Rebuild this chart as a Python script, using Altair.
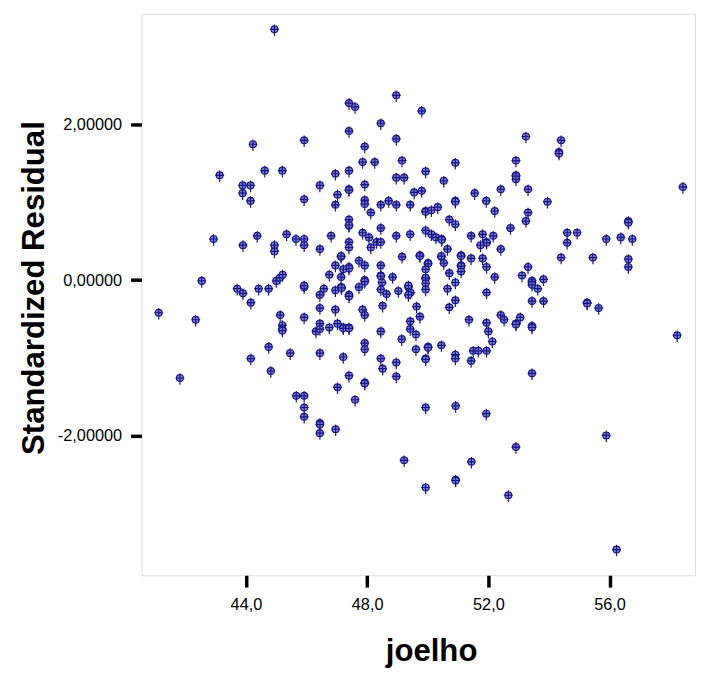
import altair as alt
import pandas as pd

# joelho (x) values
joelho = [
    44.94, 44.23, 45.92, 43.13, 44.62, 45.20, 43.89, 44.15, 43.89, 46.44,
    44.15, 45.92, 48.96, 47.40, 47.60, 49.80, 48.45, 47.40, 48.96, 47.92,
    47.85, 48.25, 49.15, 50.91, 52.91, 46.95, 47.40, 48.96, 49.22, 49.93,
    50.53, 52.91, 52.91, 47.40, 47.40, 47.92, 52.41, 47.02, 49.55, 49.80,
    51.55, 51.93, 50.91, 50.91, 47.92, 47.92, 48.71, 53.24, 54.40, 54.33,
    54.33, 52.91, 53.31, 58.42, 53.95, 42.93, 43.90, 44.37, 45.34, 45.65,
    45.92, 45.92, 44.94, 44.94, 46.44, 46.81, 42.54, 43.71, 43.90, 44.42,
    44.75, 45.00, 45.12, 45.21, 45.92, 45.92, 46.57, 46.44, 46.75, 44.16,
    46.44, 41.12, 42.34, 45.13, 45.92, 45.20, 45.20, 45.20, 46.44, 46.31,
    46.44, 46.75, 44.75, 44.16, 45.46, 46.44, 44.82, 41.82, 45.66, 45.92,
    45.92, 45.92, 46.44, 46.44, 46.44, 47.02, 47.60, 46.96, 49.93, 50.92,
    51.93, 52.91, 49.22, 51.44, 49.93, 50.92, 50.92, 52.66, 55.89, 56.23,
    53.31, 53.24, 52.73, 54.60, 54.93, 54.60, 56.62, 56.62, 55.89, 56.37,
    56.75, 54.40, 55.45, 56.62, 56.62, 53.31, 53.11, 53.44, 53.44, 53.44,
    53.82, 53.63, 53.44, 53.82, 55.26, 55.26, 55.64, 53.05, 52.91, 52.91,
    53.44, 53.44, 58.23, 53.44, 46.95, 48.45, 48.96, 49.42, 48.12, 49.93,
    49.93, 50.12, 50.33, 52.21, 47.40, 47.40, 47.40, 50.71, 50.91, 47.85,
    48.06, 48.45, 48.96, 49.42, 49.93, 50.12, 50.27, 50.46, 50.46, 51.43,
    51.81, 52.16, 51.94, 51.94, 51.74, 47.40, 47.40, 48.12, 48.31, 48.45,
    52.41, 50.65, 47.14, 47.14, 47.73, 47.92, 49.15, 49.74, 49.74, 50.45,
    50.45, 50.53, 51.10, 51.10, 51.10, 51.10, 51.43, 51.81, 51.94, 50.01,
    50.01, 49.93, 46.95, 47.40, 47.40, 47.21, 48.45, 47.14, 48.45, 48.45,
    48.84, 50.71, 51.10, 52.21, 49.93, 49.93, 47.92, 47.92, 48.49, 49.93,
    50.91, 49.36, 49.36, 46.95, 47.14, 47.16, 47.73, 48.45, 49.03, 49.43,
    49.36, 49.93, 50.65, 51.94, 47.40, 47.40, 48.64, 50.91, 48.51, 49.63,
    50.71, 46.95, 47.85, 47.92, 49.74, 49.42, 51.36, 52.41, 52.52, 51.94,
    47.02, 47.21, 47.21, 47.40, 47.40, 49.42, 52.00, 48.45, 49.61, 49.14,
    52.13, 47.92, 47.92, 50.45, 50.01, 50.01, 49.61, 51.50, 51.67, 51.94,
    50.91, 50.91, 47.21, 48.45, 49.93, 49.93, 51.43, 48.96, 48.51, 47.40,
    48.96, 47.92, 47.92,
]

# Standardized Residual (y) values
residual = [
    3.23, 1.75, 1.80, 1.35, 1.41, 1.41, 1.22, 1.22, 1.12, 1.22,
    1.02, 1.04, 2.38, 2.28, 2.23, 2.18, 2.02, 1.92, 1.82, 1.72,
    1.52, 1.52, 1.54, 1.51, 1.54, 1.37, 1.41, 1.32, 1.32, 1.40,
    1.28, 1.35, 1.30, 1.17, 1.16, 1.23, 1.17, 1.10, 1.13, 1.15,
    1.12, 1.02, 1.02, 1.01, 1.03, 0.98, 1.02, 1.85, 1.80, 1.65,
    1.63, 1.34, 1.17, 1.20, 1.01, 0.53, 0.45, 0.57, 0.59, 0.53,
    0.53, 0.45, 0.45, 0.37, 0.40, 0.57, -0.01, -0.11, -0.17, -0.11,
    -0.11, -0.01, 0.03, 0.07, -0.09, -0.07, -0.11, -0.19, 0.07, -0.29,
    -0.36, -0.42, -0.51, -0.45, -0.48, -0.58, -0.63, -0.65, -0.56, -0.66,
    -0.63, -0.61, -0.86, -1.01, -0.94, -0.94, -1.17, -1.26, -1.49, -1.49,
    -1.64, -1.76, -1.84, -1.86, -1.97, -1.38, -1.54, -1.92, -1.64, -1.62,
    -1.72, -2.15, -2.32, -2.34, -2.67, -2.57, -2.58, -2.77, -2.00, -3.47,
    0.87, 0.76, 0.67, 0.61, 0.61, 0.48, 0.76, 0.74, 0.53, 0.55,
    0.53, 0.29, 0.29, 0.27, 0.17, 0.17, 0.06, -0.01, -0.03, -0.06,
    0.01, -0.11, -0.27, -0.27, -0.29, -0.30, -0.36, -0.48, -0.56, -0.57,
    -0.59, -0.61, -0.71, -1.20, 0.97, 0.97, 0.97, 0.97, 0.87, 0.89,
    0.88, 0.90, 0.94, 0.89, 0.78, 0.70, 0.71, 0.78, 0.72, 0.61,
    0.55, 0.67, 0.57, 0.59, 0.64, 0.59, 0.55, 0.53, 0.52, 0.57,
    0.59, 0.57, 0.49, 0.48, 0.45, 0.49, 0.42, 0.42, 0.49, 0.49,
    0.40, 0.40, 0.30, 0.31, 0.25, 0.19, 0.30, 0.32, 0.31, 0.30,
    0.31, 0.22, 0.32, 0.31, 0.19, 0.18, 0.28, 0.28, 0.17, 0.22,
    0.21, 0.14, 0.19, 0.17, 0.15, 0.14, 0.19, 0.04, 0.06, 0.05,
    0.04, 0.09, 0.11, 0.04, 0.02, 0.03, 0.00, -0.02, -0.03, -0.04,
    -0.03, -0.09, -0.07, -0.13, -0.09, -0.10, -0.09, -0.12, -0.14, -0.16,
    -0.19, -0.12, -0.11, -0.16, -0.19, -0.21, -0.18, -0.26, -0.33, -0.34,
    -0.35, -0.38, -0.38, -0.45, -0.47, -0.53, -0.51, -0.45, -0.51, -0.55,
    -0.56, -0.61, -0.62, -0.61, -0.62, -0.63, -0.66, -0.66, -0.70, -0.76,
    -0.79, -0.81, -0.89, -0.84, -0.86, -0.87, -0.89, -0.91, -0.91, -0.91,
    -0.96, -1.01, -0.99, -1.01, -1.01, -1.02, -1.04, -1.06, -1.14, -1.23,
    -1.24, -1.32, -1.33,
]

x_ticks = [44, 48, 52, 56]
y_ticks = [-2, 0, 2]

df = pd.DataFrame({"joelho": joelho, "residual": residual})

marker = ("M-1,0A1,1,0,1,1,1,0A1,1,0,1,1,-1,0Z"
          "M-1.3,0L1.3,0M0,-1.4L0,1.95")

chart = alt.Chart(df).mark_point(
    shape=marker, size=49, filled=True, fill="#8080c6",
    stroke="#15158a", strokeWidth=1.2, opacity=1,
).encode(
    x=alt.X("joelho:Q",
            scale=alt.Scale(domain=[40.55, 58.82], nice=False, zero=False),
            axis=alt.Axis(values=x_ticks, title="joelho", grid=False, domain=False,
                          labelExpr="replace(format(datum.value, '.1f'), '.', ',')",
                          tickColor="black", tickWidth=3.5, tickSize=12,
                          labelFont="Liberation Sans", labelFontSize=16.5,
                          labelColor="black", labelPadding=10,
                          titleFont="Liberation Sans", titleFontSize=31.5,
                          titleFontWeight="bold", titleColor="black",
                          titleX=293, titleY=86, titleBaseline="alphabetic")),
    y=alt.Y("residual:Q",
            scale=alt.Scale(domain=[-3.80, 3.43], nice=False, zero=False),
            axis=alt.Axis(values=y_ticks, title="Standardized Residual", grid=False,
                          domain=False,
                          labelExpr="replace(replace(format(datum.value, '.5f'), '.', ','), '\u2212', '-')",
                          tickColor="black", tickWidth=3.5, tickSize=11,
                          labelFont="Liberation Sans", labelFontSize=16.5,
                          labelColor="black", labelPadding=9,
                          titleFont="Liberation Sans", titleFontSize=31.5,
                          titleFontWeight="bold", titleColor="black",
                          titleX=-99, titleY=277, titleBaseline="alphabetic")),
).properties(
    width=560, height=568,
    autosize=alt.AutoSizeParams(type="none"),
    padding={"left": 135, "top": 2, "right": 1, "bottom": 90},
).configure_view(
    stroke="#707070", strokeWidth=1.5
).configure(background="white")

chart.save("out.html", embed_options={"renderer": "svg", "actions": False})
